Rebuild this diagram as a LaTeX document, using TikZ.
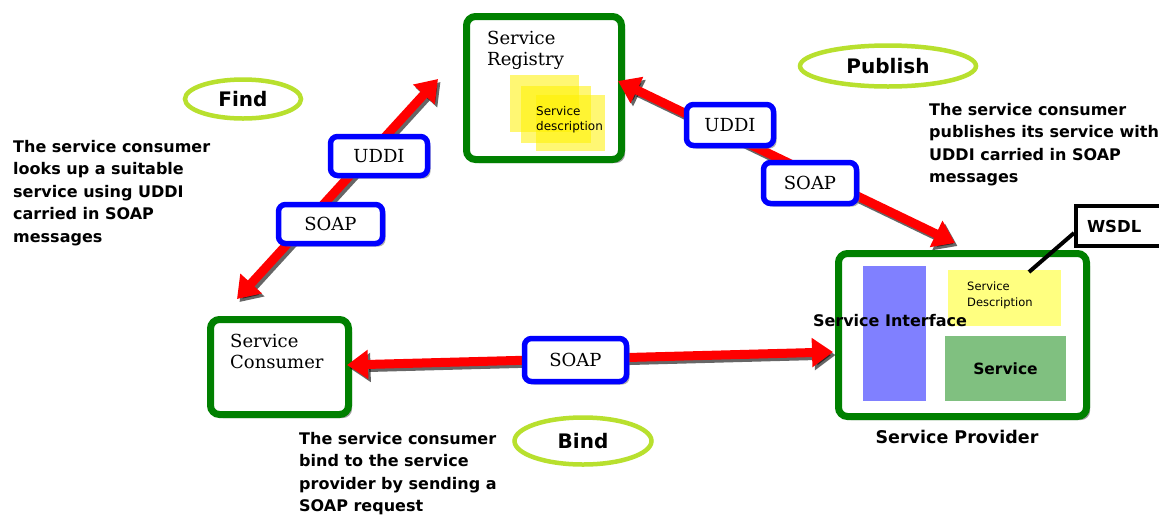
\documentclass[tikz,border=0pt]{standalone}
\usepackage{fontspec}
\setmainfont{DejaVu Serif}
\newfontfamily\sansfont{DejaVu Sans}
\usepackage{tikz}
\usetikzlibrary{arrows.meta,shadows,shapes.geometric}

\definecolor{rolegreen}{RGB}{0,128,0}
\definecolor{tagblue}{RGB}{0,0,255}
\definecolor{ringgreen}{RGB}{184,224,46}
\definecolor{ifaceblue}{RGB}{128,128,255}
\definecolor{descyellow}{RGB}{255,255,128}
\definecolor{svcgreen}{RGB}{128,192,128}

\begin{document}
\begin{tikzpicture}[x=1pt,y=-1pt]
\tikzset{
role/.style={draw=rolegreen, line width=7pt, rounded corners=9pt, fill=white,
  drop shadow={shadow xshift=3.5pt, shadow yshift=-3.5pt, opacity=.75}},
tag/.style={draw=tagblue, line width=5.5pt, rounded corners=7pt, fill=white,
  font=\fontsize{18}{20}\selectfont,
  drop shadow={shadow xshift=3pt, shadow yshift=-3pt, opacity=.6}},
ring/.style={ellipse, draw=ringgreen, line width=4.5pt, inner sep=0pt,
  font=\sansfont\bfseries\fontsize{20}{24}\selectfont},
note/.style={anchor=north west, align=left, inner sep=0pt,
  font=\sansfont\bfseries\fontsize{16}{22.5}\selectfont},
title/.style={anchor=north west, align=left, inner sep=0pt,
  font=\fontsize{18}{21}\selectfont},
small/.style={anchor=north west, align=left, inner sep=0pt,
  font=\sansfont\fontsize{12}{15}\selectfont},
flow/.style={draw=red, line width=9pt,
  {Triangle[width=28pt,length=21pt]}-{Triangle[width=28pt,length=21pt]}},
flowshadow/.style={flow, draw=black, opacity=.6,
  transform canvas={shift={(2.5pt,-3pt)}}}
}
\fill[white] (0,0) rectangle (1159,515);
\useasboundingbox (0,0) rectangle (1159,515);

% registry
\node[role, minimum width=155, minimum height=143] (registry) at (544,88) {};
\node[title] (regname) at (487,31) {Service\\Registry};
\fill[yellow, opacity=.55] (510,75) rectangle (579,132);
\fill[yellow, opacity=.55] (521,86) rectangle (591,143);
\fill[yellow, opacity=.55] (536,95) rectangle (605,151);
\node[small] (regdesc) at (536,106) {Service\\description};

% consumer
\node[role, minimum width=138, minimum height=95] (consumer) at (279.5,367) {};
\node[title] (consname) at (230,334) {Service\\Consumer};

% provider
\node[role, minimum width=248, minimum height=163] (provider) at (962.5,335) {};
\fill[ifaceblue] (863,266) rectangle (926,401);
\node[fill=descyellow, minimum width=113, minimum height=56] (wsdldesc) at (1004.5,298) {};
\node[small, font=\sansfont\fontsize{11.5}{16}\selectfont] (descname) at (967,282) {Service\\Description};
\node[fill=svcgreen, minimum width=121, minimum height=65,
  font=\sansfont\bfseries\fontsize{15.5}{18}\selectfont] (service) at (1005.5,368.5) {Service};
\node[font=\sansfont\bfseries\fontsize{16}{18}\selectfont, inner sep=0pt] (iface) at (890,321) {Service Interface};
\node[font=\sansfont\bfseries\fontsize{17.5}{20}\selectfont, inner sep=0pt] (provname) at (957,437) {Service Provider};

% wsdl callout
\coordinate (wsdlpin) at (1029,272);
\node[draw, line width=4pt, fill=white, anchor=west, text width=70, align=left,
  inner xsep=11pt, minimum height=40,
  font=\sansfont\bfseries\fontsize{16.5}{18}\selectfont] (wsdl) at (1074,226) {WSDL};
\draw[line width=4pt] (wsdlpin) -- ([yshift=-7pt]wsdl.west);

% find, publish and bind
\coordinate (findlow) at (237,299);
\coordinate (findhigh) at (438,79);
\coordinate (publow) at (955,243);
\coordinate (pubhigh) at (618,81);
\coordinate (bindleft) at (347,365);
\coordinate (bindright) at (833,352);
\foreach \a/\b in {findlow/findhigh, pubhigh/publow, bindleft/bindright}{
  \draw[flowshadow] (\a) -- (\b);
  \draw[flow] (\a) -- (\b);
}

\node[tag, minimum width=97, minimum height=39] (finduddi) at (379,156) {UDDI};
\node[tag, minimum width=104, minimum height=39] (findsoap) at (330.5,224) {SOAP};
\node[tag, minimum width=87, minimum height=41] (pubuddi) at (730,125) {UDDI};
\node[tag, minimum width=93, minimum height=41] (pubsoap) at (810,183) {SOAP};
\node[tag, minimum width=102, minimum height=43] (bindsoap) at (575.5,360) {SOAP};

\node[ring, minimum width=116, minimum height=39] (find) at (243,99) {Find};
\node[ring, minimum width=176, minimum height=41] (publish) at (888,66) {Publish};
\node[ring, minimum width=137, minimum height=47] (bind) at (583,441) {Bind};

\node[note] (findnote) at (13,140) {The service consumer\\looks up a suitable\\service using UDDI\\carried in SOAP\\messages};
\node[note] (pubnote) at (929,103) {The service consumer\\publishes its service with\\UDDI carried in SOAP\\messages};
\node[note] (bindnote) at (299,432) {The service consumer\\bind to the service\\provider by sending a\\SOAP request};
\end{tikzpicture}
\end{document}
